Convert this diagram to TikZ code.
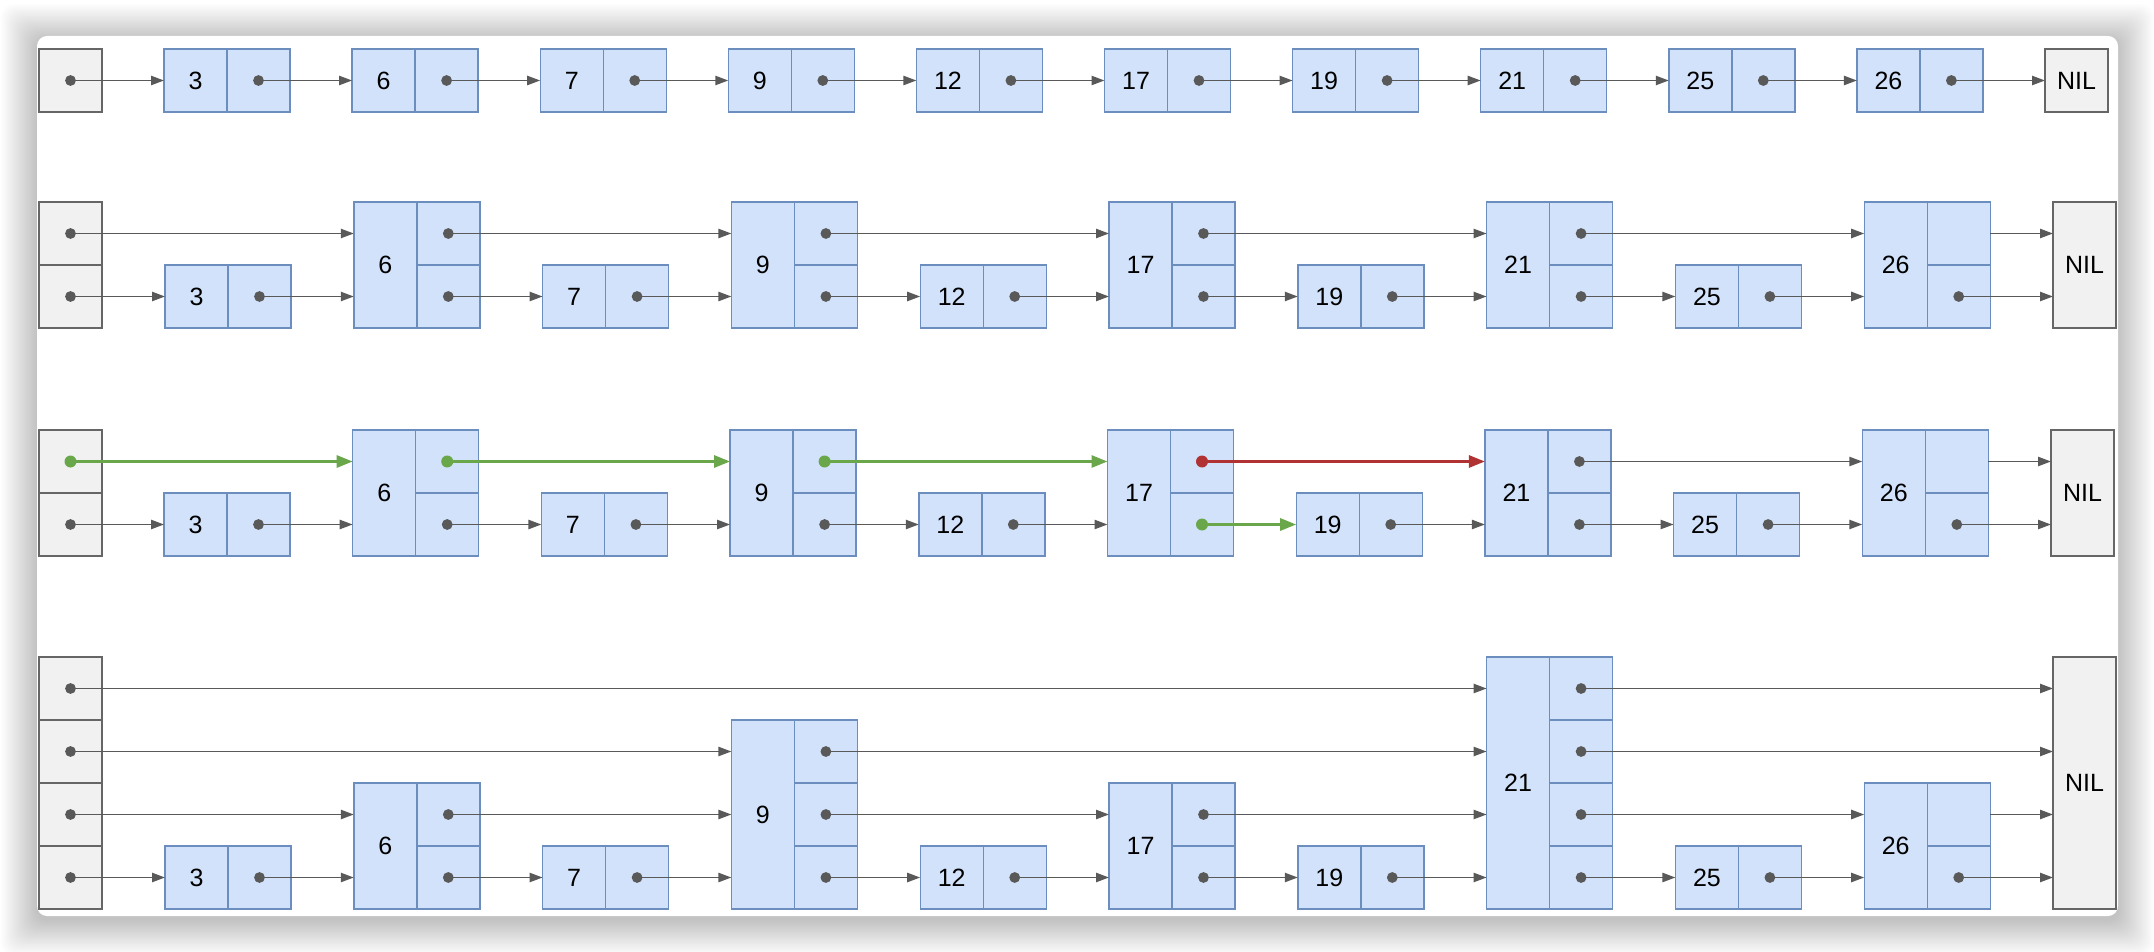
\documentclass[tikz,border=0pt]{standalone}
\usepackage{fontspec}
\setmainfont{Liberation Sans}
\usetikzlibrary{arrows.meta}
\definecolor{nodefill}{HTML}{D2E2FA}
\definecolor{nodeline}{HTML}{6C8EBF}
\definecolor{hdrfill}{HTML}{F1F1F1}
\definecolor{hdrline}{HTML}{666666}
\definecolor{linkgray}{HTML}{595959}
\definecolor{pathgreen}{HTML}{6AA74A}
\definecolor{pathred}{HTML}{B03232}
\tikzset{
  cellbase/.style={rectangle, inner sep=0pt, outer sep=0pt, line width=0.7pt,
    font=\fontsize{12.5}{14}\selectfont, text=black},
  keycell/.style={cellbase, draw=nodeline, fill=nodefill, minimum width=31.5pt},
  ptrcell/.style={cellbase, draw=nodeline, fill=nodefill, minimum width=31.5pt, minimum height=31.5pt},
  hdrcell/.style={cellbase, draw=hdrline, fill=hdrfill, minimum width=31.5pt, minimum height=31.5pt},
  nilcell/.style={cellbase, draw=hdrline, fill=hdrfill, minimum width=31.5pt},
  link/.style={draw=linkgray, line width=0.9pt, -{Triangle[length=6.5pt,width=4.6pt]}},
  hllink/.style={line width=1.4pt, -{Triangle[length=8pt,width=6pt]}},
}
% row, key, left x, levels, bottom y
\newcommand{\SkNode}[5]{%
  \node[keycell, minimum height=#4*31.5pt] (r#1k#2) at ({#3+31.5},{#5-#4*31.5}) {#2};
  \foreach \lv in {1,...,#4}{\node[ptrcell] (r#1p#2l\lv) at ({#3+94.5},{#5-(\lv-0.5)*63}) {};}
}
% row, levels, bottom y
\newcommand{\SkHead}[3]{%
  \foreach \lv in {1,...,#2}{\node[hdrcell] (r#1h\lv) at (70.5,{#3-(\lv-0.5)*63}) {};}
}
% row, left x, levels, bottom y
\newcommand{\SkNil}[4]{%
  \node[nilcell, minimum height=#3*31.5pt] (r#1nil) at ({#2+31.5},{#4-#3*31.5}) {NIL};
}
\newcommand{\Lnk}[3][linkgray]{%
  \fill[#1] (#2.center) circle[radius=2.7pt];
  \draw[link,draw=#1] (#2.center) -- (#2.center -| #3.west);}
\newcommand{\HLnk}[3]{%
  \fill[#1] (#2.center) circle[radius=3pt];
  \draw[hllink,draw=#1] (#2.center) -- (#2.center -| #3.west);}
\newcommand{\LnkE}[2]{%
  \draw[link] (#1.east) -- (#1.east -| #2.west);}
\begin{document}
\begin{tikzpicture}[x=0.5pt,y=-0.5pt]
\path[use as bounding box] (0,0) rectangle (2154,952);
\fill[white] (0,0) rectangle (2154,952);
% window shadow
\foreach \i in {1,...,30}{
  \fill[black, opacity=0.008, rounded corners=6pt]
    ({37-\i*1.2},{36-\i*1.2+4}) rectangle ({2118+\i*1.2},{916+\i*1.2+4});
}
\fill[white, rounded corners=5pt] (37,36) rectangle (2118,916);

% ---------- row 1 ----------
\SkHead{1}{1}{112}
\foreach \k/\i in {3/0,6/1,7/2,9/3,12/4,17/5,19/6,21/7,25/8,26/9}{
  \SkNode{1}{\k}{164+188.1*\i}{1}{112}
}
\SkNil{1}{2045}{1}{112}

% ---------- row 2 ----------
\SkHead{2}{2}{328}
\foreach \k/\i/\h in {3/0/1,6/1/2,7/2/1,9/3/2,12/4/1,17/5/2,19/6/1,21/7/2,25/8/1,26/9/2}{
  \SkNode{2}{\k}{165+188.8*\i}{\h}{328}
}
\SkNil{2}{2053}{2}{328}

% ---------- row 3 ----------
\SkHead{3}{2}{556}
\foreach \k/\i/\h in {3/0/1,6/1/2,7/2/1,9/3/2,12/4/1,17/5/2,19/6/1,21/7/2,25/8/1,26/9/2}{
  \SkNode{3}{\k}{164+188.7*\i}{\h}{556}
}
\SkNil{3}{2051}{2}{556}

% ---------- row 4 ----------
\SkHead{4}{4}{909}
\foreach \k/\i/\h in {3/0/1,6/1/2,7/2/1,9/3/3,12/4/1,17/5/2,19/6/1,21/7/4,25/8/1,26/9/2}{
  \SkNode{4}{\k}{165+188.8*\i}{\h}{909}
}
\SkNil{4}{2053}{4}{909}

% ---------- links row 1 ----------
\Lnk{r1h1}{r1k3}
\Lnk{r1p3l1}{r1k6}
\Lnk{r1p6l1}{r1k7}
\Lnk{r1p7l1}{r1k9}
\Lnk{r1p9l1}{r1k12}
\Lnk{r1p12l1}{r1k17}
\Lnk{r1p17l1}{r1k19}
\Lnk{r1p19l1}{r1k21}
\Lnk{r1p21l1}{r1k25}
\Lnk{r1p25l1}{r1k26}
\Lnk{r1p26l1}{r1nil}

% ---------- links row 2 ----------
\Lnk{r2h2}{r2k6}
\Lnk{r2h1}{r2k3}
\Lnk{r2p3l1}{r2k6}
\Lnk{r2p6l2}{r2k9}
\Lnk{r2p6l1}{r2k7}
\Lnk{r2p7l1}{r2k9}
\Lnk{r2p9l2}{r2k17}
\Lnk{r2p9l1}{r2k12}
\Lnk{r2p12l1}{r2k17}
\Lnk{r2p17l2}{r2k21}
\Lnk{r2p17l1}{r2k19}
\Lnk{r2p19l1}{r2k21}
\Lnk{r2p21l2}{r2k26}
\Lnk{r2p21l1}{r2k25}
\Lnk{r2p25l1}{r2k26}
\LnkE{r2p26l2}{r2nil}
\Lnk{r2p26l1}{r2nil}

% ---------- links row 3 ----------
\HLnk{pathgreen}{r3h2}{r3k6}
\Lnk{r3h1}{r3k3}
\Lnk{r3p3l1}{r3k6}
\HLnk{pathgreen}{r3p6l2}{r3k9}
\Lnk{r3p6l1}{r3k7}
\Lnk{r3p7l1}{r3k9}
\HLnk{pathgreen}{r3p9l2}{r3k17}
\Lnk{r3p9l1}{r3k12}
\Lnk{r3p12l1}{r3k17}
\HLnk{pathred}{r3p17l2}{r3k21}
\HLnk{pathgreen}{r3p17l1}{r3k19}
\Lnk{r3p19l1}{r3k21}
\Lnk{r3p21l2}{r3k26}
\Lnk{r3p21l1}{r3k25}
\Lnk{r3p25l1}{r3k26}
\LnkE{r3p26l2}{r3nil}
\Lnk{r3p26l1}{r3nil}

% ---------- links row 4 ----------
\Lnk{r4h4}{r4k21}
\Lnk{r4h3}{r4k9}
\Lnk{r4h2}{r4k6}
\Lnk{r4h1}{r4k3}
\Lnk{r4p3l1}{r4k6}
\Lnk{r4p6l2}{r4k9}
\Lnk{r4p6l1}{r4k7}
\Lnk{r4p7l1}{r4k9}
\Lnk{r4p9l3}{r4k21}
\Lnk{r4p9l2}{r4k17}
\Lnk{r4p9l1}{r4k12}
\Lnk{r4p12l1}{r4k17}
\Lnk{r4p17l2}{r4k21}
\Lnk{r4p17l1}{r4k19}
\Lnk{r4p19l1}{r4k21}
\Lnk{r4p21l4}{r4nil}
\Lnk{r4p21l3}{r4nil}
\Lnk{r4p21l2}{r4k26}
\Lnk{r4p21l1}{r4k25}
\Lnk{r4p25l1}{r4k26}
\LnkE{r4p26l2}{r4nil}
\Lnk{r4p26l1}{r4nil}
\end{tikzpicture}
\end{document}
